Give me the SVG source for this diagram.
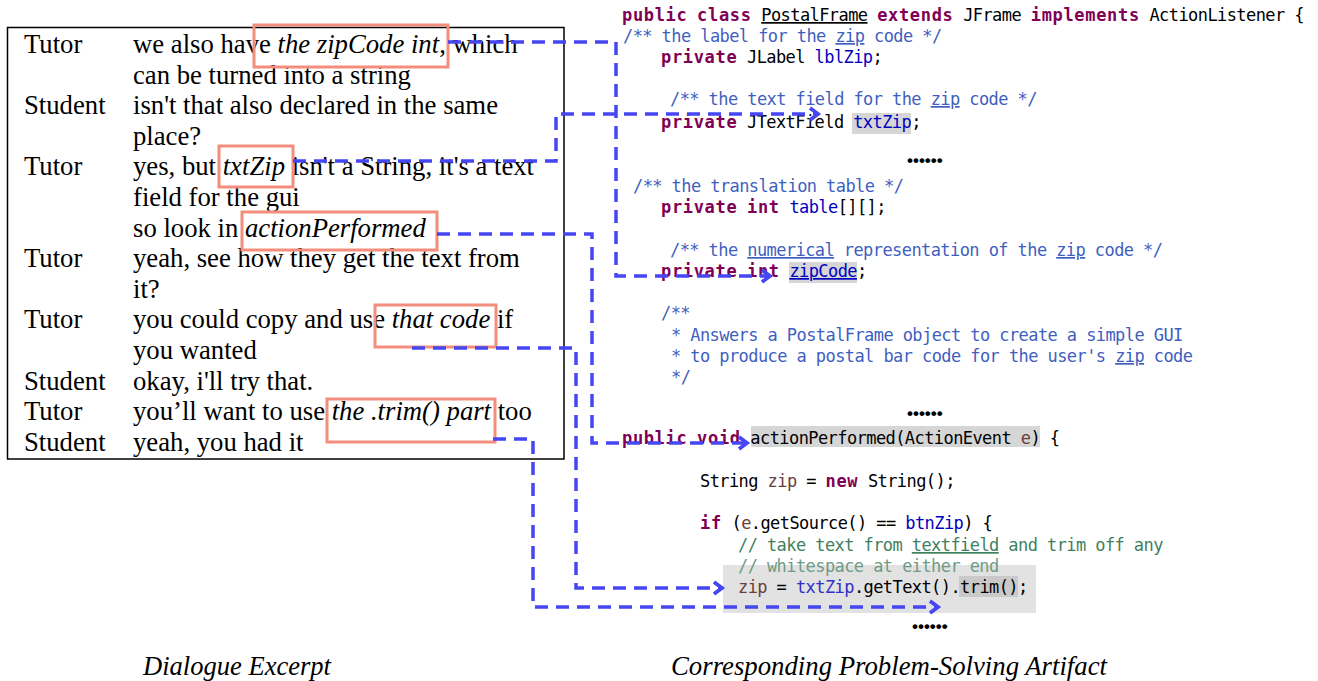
<svg xmlns="http://www.w3.org/2000/svg" width="1318" height="681" viewBox="0 0 1318 681">
  <style>
    .dlg { font-family: "Liberation Serif", "Times New Roman", serif; font-size: 26.7px; fill: #000; }
    .it { font-style: italic; }
    .cap { font-family: "Liberation Serif", "Times New Roman", serif; font-size: 27px; font-style: italic; fill: #000; }
    .mark { fill: none; stroke: #F48E7C; stroke-width: 3; }
    .code { font-family: "DejaVu Sans Mono", "Liberation Mono", monospace; font-size: 17px; letter-spacing: -0.58px; fill: #000; }
    .kw { font-weight: bold; fill: #7F0055; letter-spacing: 0.67px; }
    .doc { fill: #3F5FBF; }
    .fld { fill: #0000C0; }
    .fld2 { fill: #3030C8; }
    .var { fill: #6A3E3E; }
    .cmt { fill: #3F7F5F; }
    .cmt2 { fill: #6E9C86; }
    .u { text-decoration: underline; }
    .dots { font-family: "Liberation Sans", Arial, sans-serif; font-size: 17px; font-weight: bold; fill: #000; }
    .hl { fill: #D6D6D6; }
    .hl-block { fill: #E2E2E2; }
    .hl-dark { fill: #C9C9C9; }
    .link { fill: none; stroke: #4646F2; stroke-width: 3.5; stroke-dasharray: 13 8; }
  </style>
  <defs>
    <marker id="arrow" markerUnits="userSpaceOnUse" markerWidth="18" markerHeight="18" refX="13" refY="9" orient="auto">
      <path d="M5,3 L13,9 L5,15" fill="none" stroke="#4646F2" stroke-width="3.8"/>
    </marker>
  </defs>

  <rect x="0" y="0" width="1318" height="681" fill="#fff"/>

  <!-- dialogue table -->
  <g id="dialogue">
    <rect x="7.5" y="27.5" width="556.5" height="431.5" fill="none" stroke="#000" stroke-width="1.5"/>
    <text class="dlg" x="24" y="53">Tutor</text>
    <text class="dlg" x="133" y="53">we also have <tspan class="it">the zipCode int</tspan>, which</text>
    <text class="dlg" x="133" y="83.6">can be turned into a string</text>
    <text class="dlg" x="24" y="114.2">Student</text>
    <text class="dlg" x="133" y="114.2">isn't that also declared in the same</text>
    <text class="dlg" x="133" y="144.8">place?</text>
    <text class="dlg" x="24" y="175.4">Tutor</text>
    <text class="dlg" x="133" y="175.4">yes, but <tspan class="it">txtZip</tspan> isn't a String, it's a text</text>
    <text class="dlg" x="133" y="206">field for the gui</text>
    <text class="dlg" x="133" y="236.6">so look in <tspan class="it">actionPerformed</tspan></text>
    <text class="dlg" x="24" y="267.2">Tutor</text>
    <text class="dlg" x="133" y="267.2">yeah, see how they get the text from</text>
    <text class="dlg" x="133" y="297.8">it?</text>
    <text class="dlg" x="24" y="328.4">Tutor</text>
    <text class="dlg" x="133" y="328.4">you could copy and use <tspan class="it">that code</tspan> if</text>
    <text class="dlg" x="133" y="359">you wanted</text>
    <text class="dlg" x="24" y="389.6">Student</text>
    <text class="dlg" x="133" y="389.6">okay, i'll try that.</text>
    <text class="dlg" x="24" y="420.2">Tutor</text>
    <text class="dlg" x="133" y="420.2">you’ll want to use <tspan class="it">the .trim() part</tspan> too</text>
    <text class="dlg" x="24" y="450.8">Student</text>
    <text class="dlg" x="133" y="450.8">yeah, you had it</text>

    <!-- highlighted phrases -->
    <rect class="mark" x="254" y="25" width="194" height="42"/>
    <rect class="mark" x="219" y="146" width="74" height="41"/>
    <rect class="mark" x="242" y="212" width="195" height="38"/>
    <rect class="mark" x="375" y="305" width="121" height="42"/>
    <rect class="mark" x="327" y="399" width="168" height="43"/>
  </g>

  <!-- source code panel -->
  <g id="code">
    <rect class="hl" x="852" y="113" width="59" height="21"/>
    <rect class="hl" x="789" y="262" width="68" height="21"/>
    <rect class="hl" x="751" y="426" width="289" height="21"/>
    <rect class="hl-block" x="723" y="565" width="313" height="48"/>
    <rect class="hl-dark" x="959" y="576" width="59" height="21"/>

    <text class="code" x="622" y="21"><tspan class="kw">public</tspan> <tspan class="kw">class</tspan> <tspan class="u">PostalFrame</tspan> <tspan class="kw">extends</tspan> JFrame <tspan class="kw">implements</tspan> ActionListener {</text>
    <text class="code doc" x="623" y="42">/** the label for the <tspan class="u">zip</tspan> code */</text>
    <text class="code" x="661" y="63"><tspan class="kw">private</tspan> JLabel <tspan class="fld">lblZip</tspan>;</text>
    <text class="code doc" x="670" y="105">/** the text field for the <tspan class="u">zip</tspan> code */</text>
    <text class="code" x="661" y="128"><tspan class="kw">private</tspan> JTextField <tspan class="fld">txtZip</tspan>;</text>
    <text class="dots" x="907" y="166">••••••</text>
    <text class="code doc" x="633" y="192">/** the translation table */</text>
    <text class="code" x="661" y="213"><tspan class="kw">private</tspan> <tspan class="kw">int</tspan> <tspan class="fld">table</tspan>[][];</text>
    <text class="code doc" x="670" y="256">/** the <tspan class="u">numerical</tspan> representation of the <tspan class="u">zip</tspan> code */</text>
    <text class="code" x="661" y="277"><tspan class="kw">private</tspan> <tspan class="kw">int</tspan> <tspan class="fld u">zipCode</tspan>;</text>
    <text class="code doc" x="661" y="319">/**</text>
    <text class="code doc" x="671" y="341">* Answers a PostalFrame object to create a simple GUI</text>
    <text class="code doc" x="671" y="362">* to produce a postal bar code for the user's <tspan class="u">zip</tspan> code</text>
    <text class="code doc" x="671" y="383">*/</text>
    <text class="dots" x="907" y="419">••••••</text>
    <text class="code" x="622" y="444"><tspan class="kw">public</tspan> <tspan class="kw">void</tspan> actionPerformed(ActionEvent <tspan class="var">e</tspan>) {</text>
    <text class="code" x="700" y="487">String <tspan class="var">zip</tspan> = <tspan class="kw">new</tspan> String();</text>
    <text class="code" x="700" y="529"><tspan class="kw">if</tspan> (<tspan class="var">e</tspan>.getSource() == <tspan class="fld">btnZip</tspan>) {</text>
    <text class="code cmt" x="738" y="551">// take text from <tspan class="u">textfield</tspan> and trim off any</text>
    <text class="code cmt2" x="738" y="572">// whitespace at either end</text>
    <text class="code" x="738" y="593"><tspan class="var">zip</tspan> = <tspan class="fld2">txtZip</tspan>.getText().trim();</text>
    <text class="dots" x="912" y="632">••••••</text>
  </g>

  <!-- captions -->
  <g id="captions">
    <text class="cap" x="143" y="675" textLength="188" lengthAdjust="spacingAndGlyphs">Dialogue Excerpt</text>
    <text class="cap" x="671" y="675" textLength="436" lengthAdjust="spacingAndGlyphs">Corresponding Problem-Solving Artifact</text>
  </g>

  <!-- links from phrases to code -->
  <g id="connectors">
    <path class="link" d="M448,42 H616 V276 H770" marker-end="url(#arrow)"/>
    <path class="link" d="M293,161 H556 V114 H818" marker-end="url(#arrow)"/>
    <path class="link" d="M437,234 H592 V443 H747" marker-end="url(#arrow)"/>
    <path class="link" d="M412,348 H576 V588 H722" marker-end="url(#arrow)"/>
    <path class="link" d="M493,439 H533 V607 H938" marker-end="url(#arrow)"/>
  </g>
</svg>
